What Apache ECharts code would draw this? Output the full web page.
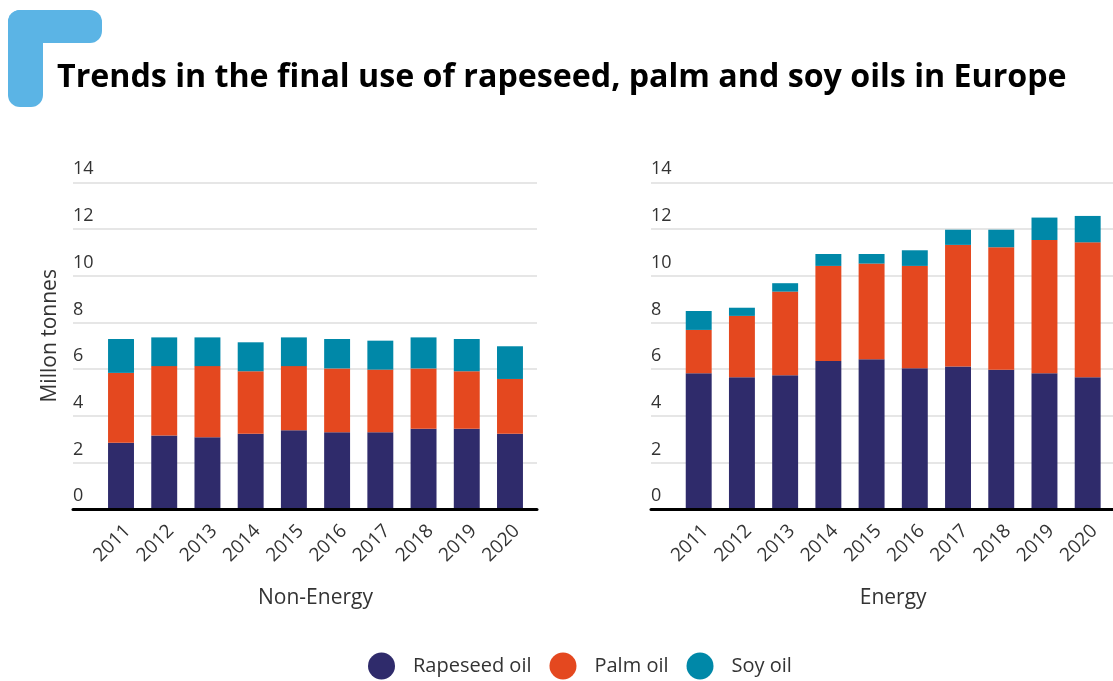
<!DOCTYPE html>
<html>
<head>
<meta charset="utf-8">
<script src="https://cdn.jsdelivr.net/npm/echarts@6/dist/echarts.min.js"></script>
<style>
html,body{margin:0;padding:0;background:#fff;}
#chart{width:1113px;height:681px;}
</style>
</head>
<body>
<div id="chart"></div>
<script>
const years = ['2011','2012','2013','2014','2015','2016','2017','2018','2019','2020'];
const yTicks = [0, 2, 4, 6, 8, 10, 12, 14];
const seriesNames = ['Rapeseed oil', 'Palm oil', 'Soy oil'];

const nonEnergyRapeseed = [2.85, 3.16, 3.09, 3.23, 3.38, 3.30, 3.30, 3.45, 3.45, 3.23];
const nonEnergyPalm     = [2.99, 2.97, 3.04, 2.68, 2.75, 2.73, 2.68, 2.58, 2.46, 2.35];
const nonEnergySoy      = [1.45, 1.23, 1.23, 1.24, 1.23, 1.26, 1.24, 1.33, 1.38, 1.40];

const energyRapeseed = [5.82, 5.65, 5.74, 6.35, 6.42, 6.04, 6.11, 5.97, 5.82, 5.65];
const energyPalm     = [1.86, 2.63, 3.58, 4.07, 4.10, 4.38, 5.21, 5.25, 5.71, 5.78];
const energySoy      = [0.81, 0.35, 0.36, 0.51, 0.41, 0.67, 0.65, 0.75, 0.96, 1.13];

const colors = ['#2F2B6B', '#E4481F', '#0088A8'];
const FONT = 'Open Sans';
const yMin = yTicks[0], yMax = yTicks[yTicks.length - 1], yStep = yTicks[1] - yTicks[0];

const chart = echarts.init(document.getElementById('chart'));

const gTop = 182.3, gHeight = 327;
function gridAxisY(name) {
  return {
    type: 'value', min: yMin, max: yMax, interval: yStep,
    axisLine: {show: false}, axisTick: {show: false},
    splitLine: {show: true, lineStyle: {color: '#dedede', width: 1.5}},
    axisLabel: {inside: true, margin: 0, verticalAlign: 'bottom', lineHeight: 18,
      padding: [0, 0, 4, 0], fontFamily: FONT, fontSize: 18, color: '#333'},
    name: name || '', nameLocation: 'middle', nameGap: 12,
    nameTextStyle: {fontFamily: FONT, fontSize: 21, color: '#333', padding: [0, 0, 0, 20]}
  };
}
function gridAxisX() {
  return {
    type: 'value', min: 0, max: 1, z: 5,
    axisLine: {show: true, onZero: false, lineStyle: {color: '#000', width: 3}},
    axisTick: {show: false}, axisLabel: {show: false}, splitLine: {show: false}
  };
}
function barAxisX(name) {
  return {
    type: 'category', data: years,
    axisLine: {show: false}, axisTick: {show: false},
    axisLabel: {interval: 0, rotate: 45, margin: 12, verticalAlign: 'top',
      fontFamily: FONT, fontSize: 19, color: '#333'},
    name: name, nameLocation: 'middle', nameGap: 78,
    nameTextStyle: {fontFamily: FONT, fontSize: 21, color: '#333'}
  };
}
function barAxisY() {
  return {type: 'value', min: yMin, max: yMax, interval: yStep, show: false, splitLine: {show: false}};
}
function bars(xi, stack, data) {
  return data.map((d, i) => ({
    name: seriesNames[i], type: 'bar', stack: stack,
    xAxisIndex: xi, yAxisIndex: xi, data: d, barWidth: '60%',
    itemStyle: {color: colors[i]}, emphasis: {disabled: true}
  }));
}

chart.setOption({
  animation: false,
  backgroundColor: '#fff',
  grid: [
    {left: 73, top: gTop, width: 464, height: gHeight},
    {left: 99.4, top: gTop, width: 432.2, height: gHeight},
    {left: 651, top: gTop, width: 462, height: gHeight},
    {left: 677.1, top: gTop, width: 432.2, height: gHeight}
  ],
  xAxis: [
    Object.assign(gridAxisX(), {gridIndex: 0}),
    Object.assign(barAxisX('Non-Energy'), {gridIndex: 1}),
    Object.assign(gridAxisX(), {gridIndex: 2}),
    Object.assign(barAxisX('Energy'), {gridIndex: 3})
  ],
  yAxis: [
    Object.assign(gridAxisY('Millon tonnes'), {gridIndex: 0}),
    Object.assign(barAxisY(), {gridIndex: 1}),
    Object.assign(gridAxisY(''), {gridIndex: 2}),
    Object.assign(barAxisY(), {gridIndex: 3})
  ],
  legend: {
    data: seriesNames, left: 368, top: 652.5, padding: 0, icon: 'circle',
    itemWidth: 27, itemHeight: 27, itemGap: 18,
    textStyle: {fontFamily: FONT, fontSize: 20, color: '#333', padding: [0, 0, 0, 13]}
  },
  graphic: [
    {type: 'rect', shape: {x: 8, y: 10, width: 35, height: 97, r: 12}, style: {fill: '#5BB4E5'}},
    {type: 'rect', shape: {x: 8, y: 10, width: 94, height: 33, r: 12}, style: {fill: '#5BB4E5'}},
    {type: 'text', left: 57, top: 62,
      style: {text: 'Trends in the final use of rapeseed, palm and soy oils in Europe',
        font: 'bold 32.2px "Open Sans"', fill: '#000'}}
  ],
  series: [].concat(
    bars(1, 'ne', [nonEnergyRapeseed, nonEnergyPalm, nonEnergySoy]),
    bars(3, 'en', [energyRapeseed, energyPalm, energySoy])
  )
});
</script>
</body>
</html>
